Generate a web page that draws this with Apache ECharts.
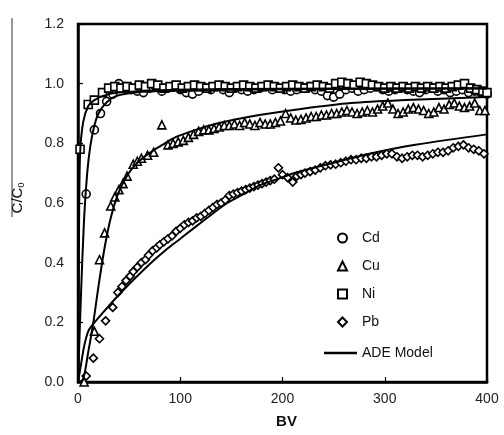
<!DOCTYPE html>
<html>
<head>
<meta charset="utf-8">
<script src="https://cdn.jsdelivr.net/npm/echarts@6/dist/echarts.min.js"></script>
<style>
  html, body { margin: 0; padding: 0; background: #fff; }
  #chart { width: 504px; height: 435px; }
</style>
</head>
<body>
<div id="chart"></div>
<script>
// measured points, [BV, C/C0]
var cdPoints = [
  [8, 0.63], [16, 0.845], [22, 0.90], [28, 0.94], [34, 0.965], [40, 1.0], [46, 0.99], [52, 0.98],
  [58, 0.975], [64, 0.97], [70, 0.985], [76, 0.99], [82, 0.975], [88, 0.985], [94, 0.99], [100, 0.98],
  [106, 0.97], [112, 0.965], [118, 0.975], [124, 0.985], [130, 0.98], [136, 0.99], [142, 0.98], [148, 0.97],
  [154, 0.985], [160, 0.98], [166, 0.975], [172, 0.98], [178, 0.985], [184, 0.99], [190, 0.98], [196, 0.985],
  [202, 0.98], [208, 0.975], [214, 0.98], [220, 0.985], [226, 0.99], [232, 0.98], [238, 0.975], [244, 0.96],
  [250, 0.955], [256, 0.965], [262, 0.98], [268, 0.985], [274, 0.975], [280, 0.98], [286, 0.985], [292, 0.99],
  [298, 0.98], [304, 0.975], [310, 0.98], [316, 0.985], [322, 0.98], [328, 0.975], [334, 0.97], [340, 0.98],
  [346, 0.985], [352, 0.975], [358, 0.98], [364, 0.97], [370, 0.975], [376, 0.98], [382, 0.97], [388, 0.975],
  [394, 0.97], [400, 0.965]
];
var cuPoints = [
  [6, 0.0], [16, 0.17], [21, 0.41], [26, 0.50], [32, 0.59], [36, 0.62], [40, 0.645], [44, 0.665],
  [48, 0.69], [54, 0.73], [58, 0.74], [62, 0.75], [68, 0.76], [74, 0.77], [82, 0.862], [88, 0.795],
  [93, 0.80], [98, 0.805], [103, 0.81], [108, 0.82], [113, 0.83], [118, 0.84], [123, 0.845], [128, 0.845],
  [133, 0.85], [138, 0.855], [143, 0.86], [148, 0.86], [153, 0.865], [158, 0.86], [163, 0.87], [168, 0.865],
  [173, 0.86], [178, 0.87], [183, 0.865], [188, 0.865], [193, 0.87], [198, 0.875], [203, 0.90], [208, 0.885],
  [213, 0.878], [218, 0.88], [223, 0.885], [228, 0.89], [233, 0.89], [238, 0.895], [243, 0.895], [248, 0.90],
  [253, 0.90], [258, 0.905], [263, 0.91], [268, 0.905], [273, 0.90], [278, 0.905], [283, 0.91], [288, 0.905],
  [293, 0.915], [298, 0.925], [303, 0.935], [308, 0.915], [313, 0.90], [318, 0.905], [323, 0.915], [328, 0.92],
  [333, 0.915], [338, 0.91], [343, 0.90], [348, 0.905], [353, 0.92], [358, 0.915], [363, 0.93], [368, 0.935],
  [373, 0.925], [378, 0.92], [383, 0.925], [388, 0.935], [393, 0.91], [398, 0.91]
];
var niPoints = [
  [2, 0.78], [10, 0.93], [16, 0.945], [24, 0.97], [30, 0.985], [36, 0.99], [42, 0.985], [48, 0.99],
  [54, 0.985], [60, 0.995], [66, 0.99], [72, 1.0], [78, 0.995], [84, 0.985], [90, 0.99], [96, 0.995],
  [102, 0.985], [108, 0.99], [114, 0.995], [120, 0.99], [126, 0.985], [132, 0.99], [138, 0.995], [144, 0.99],
  [150, 0.985], [156, 0.99], [162, 0.995], [168, 0.99], [174, 0.985], [180, 0.99], [186, 0.995], [192, 0.99],
  [198, 0.985], [204, 0.99], [210, 0.995], [216, 0.99], [222, 0.985], [228, 0.99], [234, 0.995], [240, 0.99],
  [246, 0.985], [252, 1.0], [258, 1.005], [264, 1.0], [270, 0.995], [276, 1.005], [282, 1.0], [288, 0.995],
  [294, 0.99], [300, 0.985], [306, 0.99], [312, 0.985], [318, 0.99], [324, 0.985], [330, 0.99], [336, 0.985],
  [342, 0.99], [348, 0.985], [354, 0.99], [360, 0.985], [366, 0.99], [372, 0.995], [378, 1.0], [384, 0.985],
  [390, 0.98], [396, 0.975], [400, 0.97]
];
var pbPoints = [
  [8, 0.02], [15, 0.08], [21, 0.145], [27, 0.205], [34, 0.25], [39, 0.30], [43, 0.32], [47, 0.34],
  [51, 0.355], [54, 0.37], [58, 0.385], [62, 0.40], [66, 0.41], [69, 0.425], [73, 0.44], [77, 0.45],
  [80, 0.46], [84, 0.47], [88, 0.48], [92, 0.49], [96, 0.505], [100, 0.515], [104, 0.527], [108, 0.535],
  [112, 0.54], [116, 0.55], [120, 0.555], [124, 0.565], [128, 0.575], [132, 0.585], [136, 0.595], [140, 0.60],
  [144, 0.61], [148, 0.625], [152, 0.63], [156, 0.635], [160, 0.64], [164, 0.645], [168, 0.65], [172, 0.655],
  [176, 0.66], [180, 0.665], [184, 0.67], [188, 0.675], [192, 0.68], [196, 0.718], [200, 0.695], [205, 0.685],
  [210, 0.67], [214, 0.69], [218, 0.695], [222, 0.70], [227, 0.705], [232, 0.71], [237, 0.718], [242, 0.725],
  [247, 0.728], [252, 0.73], [257, 0.735], [262, 0.74], [267, 0.745], [272, 0.745], [277, 0.75], [282, 0.75],
  [287, 0.755], [292, 0.755], [297, 0.76], [302, 0.765], [307, 0.765], [312, 0.755], [317, 0.75], [322, 0.755],
  [327, 0.76], [332, 0.76], [337, 0.755], [342, 0.76], [347, 0.765], [352, 0.77], [357, 0.77], [362, 0.775],
  [367, 0.785], [372, 0.79], [377, 0.795], [382, 0.785], [387, 0.78], [392, 0.775], [397, 0.765]
];

// ADE model curves
var cdModel = [[0, 0], [3, 0.3], [6, 0.55], [9, 0.70], [12, 0.79], [16, 0.86], [20, 0.90], [26, 0.93],
  [35, 0.955], [50, 0.968], [80, 0.975], [150, 0.98], [250, 0.982], [400, 0.984]];
var niModel = [[0, 0], [1, 0.5], [2, 0.76], [5, 0.87], [10, 0.925], [16, 0.945], [25, 0.96], [40, 0.97],
  [80, 0.978], [150, 0.982], [400, 0.985]];
var cuModel = [[0, 0], [5, 0.01], [10, 0.1], [15, 0.2], [20, 0.32], [26, 0.45], [32, 0.55], [39, 0.63],
  [46, 0.68], [54, 0.72], [63, 0.75], [73, 0.775], [85, 0.80], [95, 0.82], [115, 0.845], [134, 0.865],
  [169, 0.89], [218, 0.915], [267, 0.935], [320, 0.945], [400, 0.955]];
var pbModel = [[0, 0], [3, 0.06], [6, 0.12], [10, 0.17], [15, 0.195], [25, 0.235], [38, 0.285], [55, 0.345],
  [70, 0.395], [85, 0.44], [100, 0.48], [113, 0.515], [130, 0.56], [146, 0.60], [162, 0.63], [178, 0.66],
  [195, 0.68], [211, 0.70], [250, 0.735], [285, 0.765], [330, 0.795], [400, 0.83]];

var xTicks = [0, 100, 200, 300, 400];
var yTicks = [0, 0.2, 0.4, 0.6, 0.8, 1.0, 1.2];

var font = "Liberation Sans, Arial, sans-serif";

function scatter(name, symbol, size, data) {
  return {
    name: name,
    type: "scatter",
    symbol: symbol,
    symbolSize: size,
    data: data,
    itemStyle: { color: "#fff", borderColor: "#000", borderWidth: 1.6, opacity: 1 },
    z: 3
  };
}

function model(data) {
  return {
    name: "ADE Model",
    type: "line",
    data: data,
    smooth: 0.3,
    symbol: "none",
    lineStyle: { color: "#000", width: 2 },
    itemStyle: { color: "#000" },
    z: 4
  };
}

var chart = echarts.init(document.getElementById("chart"));
chart.setOption({
  animation: false,
  grid: {
    left: 78, right: 17, top: 24, bottom: 53,
    show: true, borderColor: "#000", borderWidth: 2.5
  },
  xAxis: {
    type: "value",
    min: xTicks[0], max: xTicks[xTicks.length - 1], interval: 100,
    name: "BV", nameLocation: "middle", nameGap: 32,
    nameTextStyle: { fontFamily: font, fontSize: 15, fontWeight: "bold", color: "#111", padding: [0, 0, 0, 8] },
    axisLine: { lineStyle: { color: "#000", width: 2.5 } },
    axisTick: { inside: true, length: 5, lineStyle: { color: "#000", width: 1.2 } },
    axisLabel: { fontFamily: font, fontSize: 14, color: "#222", margin: 10 },
    splitLine: { show: false }
  },
  yAxis: {
    type: "value",
    min: yTicks[0], max: yTicks[yTicks.length - 1], interval: 0.2,
    name: "C/C{s|0}", nameLocation: "middle", nameGap: 52, nameRotate: 90,
    nameTextStyle: {
      fontFamily: font, fontSize: 15, color: "#111", padding: [0, 0, 0, 10],
      rich: { s: { fontFamily: font, fontSize: 9, verticalAlign: "bottom", padding: [8, 0, 0, 0] } }
    },
    axisLine: { lineStyle: { color: "#000", width: 2.5 } },
    axisTick: { inside: true, length: 5, lineStyle: { color: "#000", width: 1.2 } },
    axisLabel: {
      fontFamily: font, fontSize: 14, color: "#222", margin: 14,
      formatter: function (v) { return v.toFixed(1); }
    },
    splitLine: { show: false }
  },
  legend: [
    {
      data: ["Cd", "Cu", "Ni", "Pb"],
      orient: "vertical",
      left: 332, top: 226,
      itemWidth: 9, itemHeight: 9, itemGap: 14,
      textStyle: { fontFamily: font, fontSize: 14, color: "#111", padding: [0, 0, 0, 10] }
    },
    {
      data: [{ name: "ADE Model", icon: "rect", itemStyle: { color: "#000" } }],
      left: 319, top: 341,
      itemWidth: 33, itemHeight: 2.5,
      textStyle: { fontFamily: font, fontSize: 14, color: "#111", padding: [0, 0, 0, 0] }
    }
  ],
  graphic: [
    { type: "line", shape: { x1: 12, y1: 18, x2: 12, y2: 217 }, style: { stroke: "#333", lineWidth: 1 } }
  ],
  series: [
    scatter("Cd", "circle", 8, cdPoints),
    scatter("Cu", "triangle", 8, cuPoints),
    scatter("Ni", "rect", 8, niPoints),
    scatter("Pb", "diamond", 8, pbPoints),
    model(cdModel),
    model(niModel),
    model(cuModel),
    model(pbModel)
  ]
});
</script>
</body>
</html>
